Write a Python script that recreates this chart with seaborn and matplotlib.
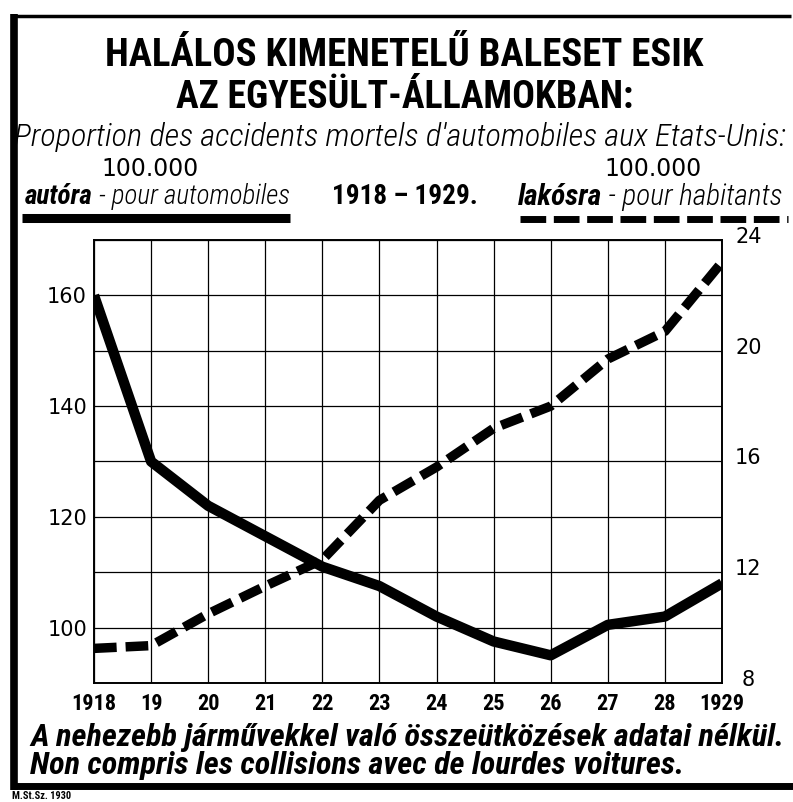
import numpy as np
import pandas as pd
import seaborn as sns
import matplotlib
matplotlib.use("Agg")
import matplotlib.pyplot as plt
from matplotlib.lines import Line2D
from matplotlib import font_manager as fm
from matplotlib.transforms import ScaledTranslation

# ---------------- data ----------------
years = [1918, 1919, 1920, 1921, 1922, 1923, 1924, 1925, 1926, 1927, 1928, 1929]
year_labels = ["1918", "19", "20", "21", "22", "23", "24", "25", "26", "27", "28", "1929"]
per_100k_autos = [160, 130, 122, 116.5, 111, 107.5, 102, 97.5, 95, 100.5, 102, 108]
per_100k_inhabitants = [9.25, 9.35, 10.5, 11.5, 12.45, 14.6, 15.8, 17.2, 18.0, 19.7, 20.7, 23.2]
left_ticks = [100, 120, 140, 160]
right_ticks = [8, 12, 16, 20, 24]

sns.set_theme(style="white")
plt.rcParams["font.family"] = ["DejaVu Sans"]

# pick an installed condensed family if there is one
_fonts = fm.fontManager.ttflist


def _has(name, stretch=None):
    for f in _fonts:
        if f.name == name and (stretch is None or str(f.stretch) == stretch):
            return True
    return False


if _has("Roboto Condensed"):
    NARROW, STRETCH = ["Roboto Condensed", "DejaVu Sans"], "normal"
elif _has("Liberation Sans Narrow"):
    NARROW, STRETCH = ["Liberation Sans Narrow", "DejaVu Sans"], "normal"
elif _has("DejaVu Sans", "condensed"):
    NARROW, STRETCH = ["DejaVu Sans"], "condensed"
elif _has("Open Sans Condensed"):
    NARROW, STRETCH = ["Open Sans Condensed", "DejaVu Sans"], "normal"
else:
    NARROW, STRETCH = ["Liberation Sans", "DejaVu Sans"], "normal"

W, H = 793, 802
fig = plt.figure(figsize=(W / 100, H / 100), dpi=100)
fig.patch.set_facecolor("white")


def fx(px):
    return px / W


def fy(py):
    return 1 - py / H


# ---------------- axes ----------------
ax = fig.add_axes([fx(94), fy(683), fx(722) - fx(94), fy(240) - fy(683)])
ax.set_facecolor("white")
df = pd.DataFrame({"year": years, "auto": per_100k_autos, "inhab": per_100k_inhabitants})

sns.lineplot(data=df, x="year", y="auto", ax=ax, color="black", linewidth=7.5,
             solid_joinstyle="round", solid_capstyle="butt", zorder=5)
ax2 = ax.twinx()
sns.lineplot(data=df, x="year", y="inhab", ax=ax2, color="black", linewidth=6.8,
             linestyle=(0, (2.4, 0.95)), dash_capstyle="butt", zorder=5)

ax.set_xlim(1918, 1929)
ax.set_ylim(90, 170)
ax2.set_ylim(8, 24)

ax.set_xticks(years)
ax.set_xticklabels(year_labels)
ax.set_yticks(left_ticks)
ax.set_yticklabels([str(v) for v in left_ticks])
ax.set_yticks(list(range(90, 171, 10)), minor=True)
ax2.set_yticks(right_ticks)
ax2.set_yticklabels([str(v) for v in right_ticks])

ax.grid(True, which="both", axis="both", color="black", linewidth=0.9)
ax.set_axisbelow(True)
ax.set_xlabel("")
ax.set_ylabel("")
ax2.set_xlabel("")
ax2.set_ylabel("")

for a in (ax, ax2):
    for s in a.spines.values():
        s.set_color("black")
        s.set_linewidth(1.2)

ax.tick_params(axis="y", which="both", length=0, pad=5, labelsize=15, labelcolor="black")
ax2.tick_params(axis="y", which="both", length=0, pad=19, labelsize=15, labelcolor="black")
up = ScaledTranslation(0, 5 / 100, fig.dpi_scale_trans)
for lab in ax2.get_yticklabels():
    lab.set_horizontalalignment("center")
    lab.set_transform(lab.get_transform() + up)
ax.tick_params(axis="x", which="major", length=5, width=1.2, color="black", pad=2,
               labelsize=13, labelcolor="black")
for lab in ax.get_xticklabels():
    lab.set_fontweight("bold")
    lab.set_family(NARROW)
    lab.set_stretch(STRETCH)
    lab.set_fontsize(16)

renderer = fig.canvas.get_renderer()


def fit(t, target):
    w = t.get_window_extent(renderer).width
    t.set_fontsize(t.get_fontsize() * target / w)
    return t


def ntext(x, y, s, **kw):
    kw.setdefault("family", NARROW)
    kw.setdefault("fontstretch", STRETCH)
    kw.setdefault("color", "black")
    kw.setdefault("va", "center")
    return fig.text(fx(x), fy(y), s, **kw)


def mixed(parts, x0, y, target_w, size=16):
    """parts: list of (text, weight). Places runs left-to-right starting at x0 (px)."""
    texts = [ntext(0, y, s, fontsize=size, fontweight=wgt, style="italic", ha="left")
             for s, wgt in parts]
    total = sum(t.get_window_extent(renderer).width for t in texts)
    for t in texts:
        t.set_fontsize(size * target_w / total)
    x = x0
    for t in texts:
        t.set_x(fx(x))
        x += t.get_window_extent(renderer).width
    return texts


# ---------------- titles ----------------
t1 = ntext(404, 56, "HALÁLOS KIMENETELŰ BALESET ESIK", ha="center", fontsize=26, fontweight="bold")
fit(t1, 598)
t2 = ntext(405, 97, "AZ EGYESÜLT-ÁLLAMOKBAN:", ha="center", fontsize=26, fontweight="bold")
fit(t2, 458)
t3 = ntext(400, 137, "Proportion des accidents mortels d'automobiles aux Etats-Unis:",
           ha="center", fontsize=16, style="italic", fontweight="light")
fit(t3, 772)

# legend headers
fig.text(fx(150), fy(169), "100.000", ha="center", va="center", fontsize=17, color="black",
         family=["DejaVu Sans"])
fig.text(fx(653), fy(169), "100.000", ha="center", va="center", fontsize=17, color="black",
         family=["DejaVu Sans"])
mixed([("autóra", "bold"), (" - pour automobiles", "light")], 25, 197, 265)
mixed([("lakósra", "bold"), (" - pour habitants", "light")], 518, 197, 265)
t4 = ntext(405, 197, "1918 – 1929.", ha="center", fontsize=18, fontweight="bold")
fit(t4, 145)

# legend bars
fig.add_artist(Line2D([fx(22), fx(290)], [fy(218), fy(218)], color="black", linewidth=6.5,
                      solid_capstyle="butt", transform=fig.transFigure))
fig.add_artist(Line2D([fx(520), fx(788)], [fy(219), fy(219)], color="black", linewidth=5,
                      linestyle=(0, (3.7, 1.1)), dash_capstyle="butt", transform=fig.transFigure))

# bottom notes
b1 = ntext(30, 738, "A nehezebb járművekkel való összeütközések adatai nélkül.",
           ha="left", fontsize=18, style="italic", fontweight="bold")
fit(b1, 756)
b2 = ntext(30, 766, "Non compris les collisions avec de lourdes voitures.",
           ha="left", fontsize=b1.get_fontsize(), style="italic", fontweight="bold")
ntext(12, 801, "M.St.Sz. 1930", ha="left", va="bottom", fontsize=7.5, fontweight="bold")

# frame
fig.add_artist(Line2D([fx(14), fx(14)], [fy(14), fy(790)], color="black", linewidth=5.5,
                      solid_capstyle="butt", transform=fig.transFigure))
fig.add_artist(Line2D([fx(11), fx(791)], [fy(15.5), fy(15.5)], color="black", linewidth=2.5,
                      solid_capstyle="butt", transform=fig.transFigure))
fig.add_artist(Line2D([fx(11), fx(793)], [fy(786), fy(786)], color="black", linewidth=5.0,
                      solid_capstyle="butt", transform=fig.transFigure))

fig.savefig("out.png", dpi=100, facecolor="white")
